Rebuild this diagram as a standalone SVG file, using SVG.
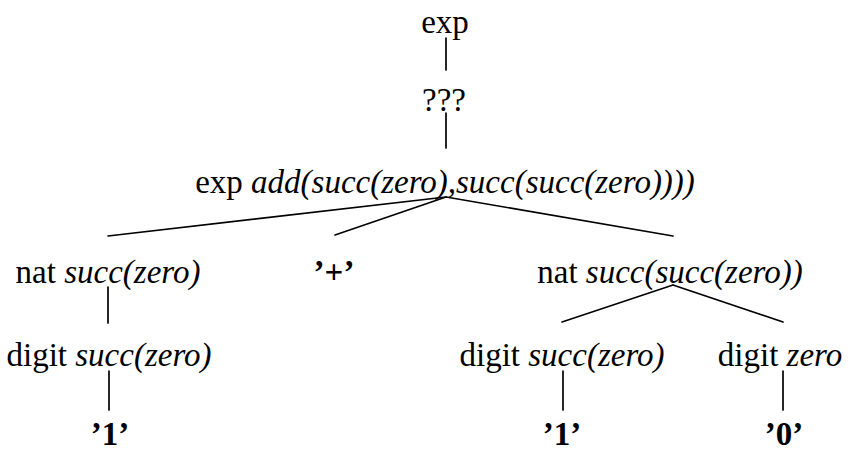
<svg xmlns="http://www.w3.org/2000/svg" width="848" height="452" viewBox="0 0 848 452">
<style>
text{font-family:'Liberation Serif','DejaVu Serif','Times New Roman',serif;font-size:33px;fill:#000;text-anchor:middle}
.i{font-style:italic}
.b{font-weight:bold}
#edges line{stroke:#000;stroke-width:1.7;stroke-linecap:round}
</style>
<rect width="848" height="452" fill="#fff"/>
<g id="edges">
<line x1="446" y1="38" x2="446" y2="70"/>
<line x1="446" y1="113" x2="446" y2="148"/>
<line x1="446" y1="197" x2="108" y2="236"/>
<line x1="446" y1="197" x2="335" y2="235"/>
<line x1="446" y1="197" x2="673" y2="236"/>
<line x1="108" y1="287" x2="108" y2="323"/>
<line x1="673" y1="285" x2="562" y2="322"/>
<line x1="673" y1="285" x2="783" y2="322"/>
<line x1="109" y1="371" x2="109" y2="410"/>
<line x1="563" y1="371" x2="563" y2="410"/>
<line x1="783" y1="371" x2="783" y2="410"/>
</g>
<g id="n_exp"><text x="445" y="33">exp</text></g>
<g id="n_unknown"><text x="444" y="111">???</text></g>
<g id="n_add"><text x="445" y="193">exp <tspan class="i">add(succ(zero),succ(succ(zero))))</tspan></text></g>
<g id="n_nat1"><text x="108" y="283">nat <tspan class="i">succ(zero)</tspan></text></g>
<g id="n_plus"><text x="334" y="283" class="b">’+’</text></g>
<g id="n_nat2"><text x="670" y="283">nat <tspan class="i">succ(succ(zero))</tspan></text></g>
<g id="n_digit1"><text x="109" y="366">digit <tspan class="i">succ(zero)</tspan></text></g>
<g id="n_digit2"><text x="562" y="366">digit <tspan class="i">succ(zero)</tspan></text></g>
<g id="n_digit3"><text x="780" y="366">digit <tspan class="i">zero</tspan></text></g>
<g id="n_one1"><text x="110" y="445" class="b">’1’</text></g>
<g id="n_one2"><text x="562" y="445" class="b">’1’</text></g>
<g id="n_zero"><text x="784" y="445" class="b">’0’</text></g>
</svg>
